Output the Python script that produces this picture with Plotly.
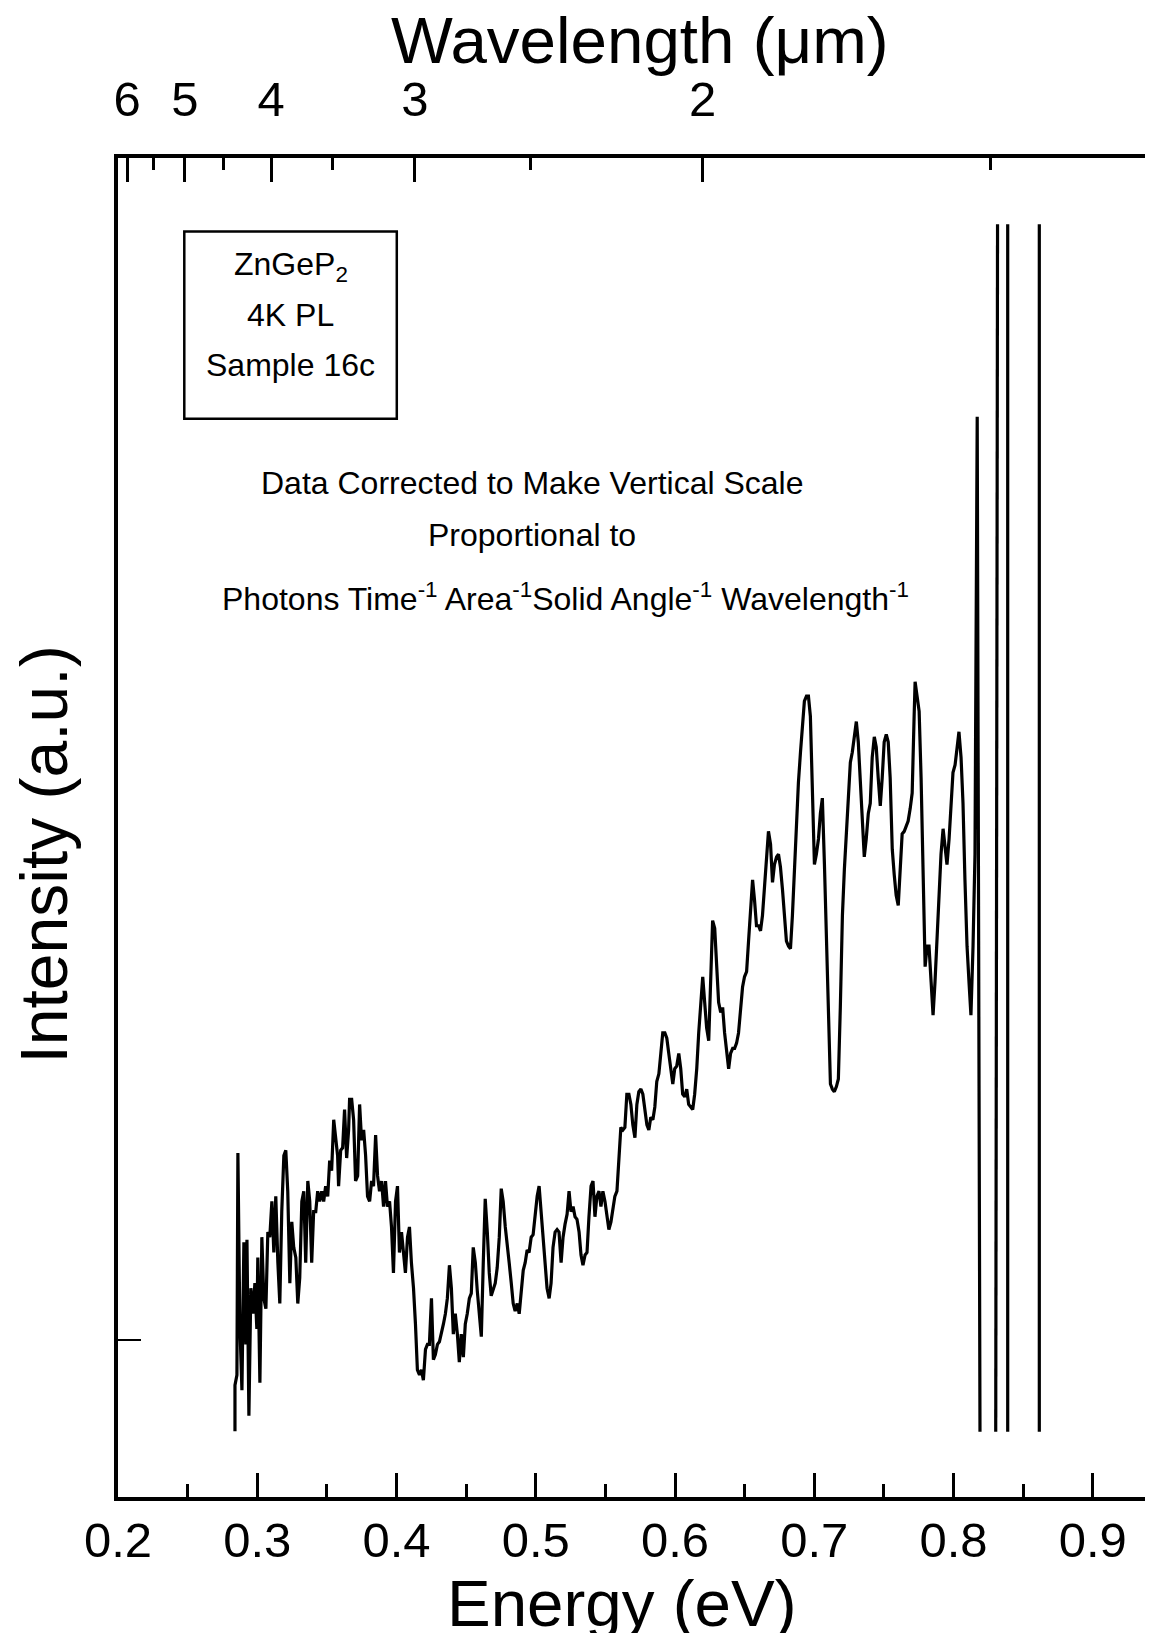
import plotly.graph_objects as go

# PL spectrum, ZnGeP2 sample 16c (energy in eV, intensity in arbitrary units)
energy = [
    0.2840, 0.2840, 0.2854, 0.2861, 0.2875, 0.2890, 0.2904, 0.2918, 0.2926, 0.2940,
    0.2954, 0.2969, 0.2983, 0.2997, 0.3004, 0.3019, 0.3033, 0.3047, 0.3062, 0.3076,
    0.3090, 0.3105, 0.3119, 0.3133, 0.3148, 0.3162, 0.3176, 0.3191, 0.3205, 0.3219,
    0.3234, 0.3248, 0.3262, 0.3277, 0.3291, 0.3305, 0.3320, 0.3334, 0.3348, 0.3363,
    0.3377, 0.3391, 0.3405, 0.3420, 0.3434, 0.3448, 0.3463, 0.3477, 0.3491, 0.3506,
    0.3520, 0.3534, 0.3549, 0.3563, 0.3577, 0.3584, 0.3599, 0.3613, 0.3627, 0.3642,
    0.3656, 0.3663, 0.3678, 0.3692, 0.3706, 0.3721, 0.3735, 0.3749, 0.3764, 0.3778,
    0.3792, 0.3807, 0.3821, 0.3835, 0.3850, 0.3864, 0.3878, 0.3893, 0.3907, 0.3921,
    0.3935, 0.3950, 0.3964, 0.3978, 0.3993, 0.4007, 0.4021, 0.4036, 0.4050, 0.4064,
    0.4079, 0.4093, 0.4107, 0.4122, 0.4136, 0.4150, 0.4165, 0.4179, 0.4193, 0.4208,
    0.4222, 0.4236, 0.4251, 0.4265, 0.4279, 0.4294, 0.4308, 0.4322, 0.4337, 0.4351,
    0.4365, 0.4380, 0.4394, 0.4408, 0.4422, 0.4437, 0.4451, 0.4465, 0.4480, 0.4494,
    0.4508, 0.4523, 0.4537, 0.4551, 0.4566, 0.4580, 0.4594, 0.4609, 0.4623, 0.4637,
    0.4652, 0.4666, 0.4680, 0.4695, 0.4709, 0.4723, 0.4738, 0.4752, 0.4766, 0.4781,
    0.4795, 0.4809, 0.4824, 0.4838, 0.4852, 0.4867, 0.4881, 0.4895, 0.4910, 0.4924,
    0.4938, 0.4952, 0.4967, 0.4981, 0.4995, 0.5010, 0.5024, 0.5038, 0.5053, 0.5067,
    0.5081, 0.5096, 0.5110, 0.5124, 0.5139, 0.5153, 0.5167, 0.5182, 0.5196, 0.5210,
    0.5225, 0.5239, 0.5253, 0.5268, 0.5282, 0.5296, 0.5311, 0.5325, 0.5339, 0.5354,
    0.5368, 0.5382, 0.5397, 0.5411, 0.5425, 0.5439, 0.5454, 0.5468, 0.5482, 0.5497,
    0.5511, 0.5525, 0.5540, 0.5554, 0.5568, 0.5583, 0.5597, 0.5611, 0.5626, 0.5640,
    0.5654, 0.5669, 0.5683, 0.5697, 0.5712, 0.5726, 0.5740, 0.5755, 0.5769, 0.5783,
    0.5798, 0.5812, 0.5826, 0.5841, 0.5855, 0.5869, 0.5884, 0.5898, 0.5912, 0.5927,
    0.5941, 0.5955, 0.5969, 0.5984, 0.5998, 0.6012, 0.6027, 0.6041, 0.6055, 0.6070,
    0.6084, 0.6098, 0.6113, 0.6127, 0.6141, 0.6156, 0.6170, 0.6184, 0.6199, 0.6213,
    0.6227, 0.6242, 0.6256, 0.6270, 0.6285, 0.6299, 0.6313, 0.6328, 0.6342, 0.6356,
    0.6371, 0.6385, 0.6399, 0.6414, 0.6428, 0.6442, 0.6456, 0.6471, 0.6485, 0.6499,
    0.6514, 0.6528, 0.6542, 0.6557, 0.6571, 0.6585, 0.6600, 0.6614, 0.6628, 0.6643,
    0.6657, 0.6671, 0.6686, 0.6700, 0.6714, 0.6729, 0.6743, 0.6757, 0.6772, 0.6786,
    0.6800, 0.6815, 0.6829, 0.6843, 0.6858, 0.6872, 0.6886, 0.6901, 0.6915, 0.6929,
    0.6944, 0.6958, 0.6972, 0.6987, 0.7001, 0.7015, 0.7030, 0.7044, 0.7058, 0.7073,
    0.7087, 0.7101, 0.7116, 0.7130, 0.7144, 0.7159, 0.7173, 0.7187, 0.7202, 0.7216,
    0.7230, 0.7245, 0.7259, 0.7273, 0.7288, 0.7302, 0.7316, 0.7330, 0.7345, 0.7359,
    0.7373, 0.7388, 0.7402, 0.7416, 0.7431, 0.7445, 0.7459, 0.7474, 0.7488, 0.7502,
    0.7517, 0.7531, 0.7545, 0.7560, 0.7574, 0.7588, 0.7603, 0.7617, 0.7631, 0.7646,
    0.7660, 0.7674, 0.7689, 0.7703, 0.7717, 0.7724, 0.7738, 0.7753, 0.7767, 0.7781,
    0.7796, 0.7810, 0.7824, 0.7839, 0.7853, 0.7867, 0.7882, 0.7896, 0.7910, 0.7925,
    0.7939, 0.7953, 0.7968, 0.7982, 0.7996, 0.8011, 0.8025, 0.8039, 0.8054, 0.8068,
    0.8082, 0.8097, 0.8111, 0.8125, 0.8140, 0.8154, 0.8170, 0.8190,
]
intensity = [
    -17.8, -8.8, -6.8, 36.7, 3.2, -9.8, 19.2, -0.8, 19.7, -14.8,
    10.2, 5.2, 11.2, 2.2, 16.2, -8.3, 20.2, 8.2, 6.2, 21.2,
    20.2, 27.2, 17.2, 28.2, 15.2, 7.2, 25.2, 36.2, 37.2, 29.2,
    11.2, 23.2, 18.2, 16.2, 7.2, 12.2, 27.2, 29.2, 15.2, 31.2,
    27.2, 15.2, 25.2, 25.2, 29.2, 27.2, 29.2, 27.2, 30.2, 28.2,
    35.2, 33.2, 43.2, 39.2, 36.2, 30.2, 37.2, 37.7, 45.2, 35.7,
    41.2, 47.2, 47.2, 43.2, 31.2, 32.2, 46.2, 39.2, 41.2, 36.2,
    28.2, 27.2, 31.2, 30.2, 40.2, 32.2, 29.2, 31.2, 26.2, 31.2,
    26.2, 27.2, 22.2, 13.2, 27.2, 30.2, 17.2, 21.2, 17.2, 13.2,
    20.2, 22.2, 15.2, 10.2, 3.2, -5.8, -6.8, -5.8, -7.8, -1.8,
    -0.8, -0.8, 8.2, -3.8, -2.8, -0.8, -0.3, 1.2, 3.2, 5.2,
    8.2, 14.7, 10.2, 1.2, 5.2, 1.2, -4.3, 1.2, -3.3, 3.2,
    5.2, 8.2, 9.2, 18.2, 15.2, 9.7, 5.2, 0.7, 15.2, 27.7,
    21.2, 13.2, 8.7, 10.2, 11.2, 14.2, 20.2, 29.7, 27.2, 22.2,
    19.2, 15.2, 11.2, 7.2, 5.7, 7.2, 5.2, 10.2, 13.7, 15.2,
    17.7, 17.2, 20.2, 20.7, 25.2, 28.2, 30.2, 25.2, 19.2, 13.2,
    10.2, 8.2, 11.2, 18.2, 21.2, 21.7, 21.2, 15.2, 20.2, 22.7,
    24.7, 29.2, 25.2, 26.2, 24.2, 23.7, 21.2, 16.7, 14.7, 16.7,
    17.2, 24.2, 30.2, 31.2, 24.2, 28.2, 29.2, 26.2, 29.2, 27.2,
    24.7, 21.7, 23.2, 26.2, 28.2, 29.2, 35.2, 41.7, 41.2, 41.7,
    48.2, 48.2, 46.2, 42.2, 39.7, 46.2, 48.7, 49.2, 48.2, 45.2,
    42.2, 41.2, 43.7, 43.2, 45.7, 50.7, 52.2, 56.2, 60.2, 60.2,
    59.2, 56.2, 53.2, 50.2, 53.2, 53.7, 56.2, 53.2, 48.2, 47.7,
    49.2, 46.2, 45.7, 45.2, 48.2, 53.2, 60.2, 66.2, 71.2, 66.2,
    61.2, 58.7, 71.2, 82.2, 80.7, 74.2, 66.2, 64.2, 65.2, 60.2,
    56.2, 53.2, 56.2, 57.2, 57.2, 58.2, 60.2, 65.2, 69.2, 71.2,
    72.2, 78.2, 84.2, 90.2, 86.2, 81.2, 81.2, 80.2, 83.2, 89.2,
    95.2, 99.7, 97.2, 89.7, 93.2, 94.7, 95.2, 92.7, 88.2, 83.2,
    78.2, 77.2, 76.7, 83.2, 93.2, 101.2, 109.2, 115.2, 120.2, 125.2,
    126.2, 126.2, 122.2, 106.2, 93.2, 95.2, 98.2, 103.2, 106.2, 93.2,
    80.2, 65.2, 50.2, 49.2, 48.7, 49.7, 51.2, 65.2, 83.2, 92.2,
    99.2, 106.2, 113.2, 115.2, 118.2, 121.2, 117.2, 109.2, 101.2, 94.7,
    98.2, 103.2, 105.2, 114.2, 118.2, 116.2, 110.2, 104.7, 110.2, 117.2,
    118.7, 117.2, 110.2, 96.2, 91.2, 87.2, 85.2, 93.2, 99.2, 99.7,
    100.7, 101.7, 104.2, 107.2, 122.2, 129.0, 126.2, 123.2, 110.2, 92.2,
    73.2, 77.2, 77.2, 70.2, 63.7, 70.2, 79.2, 88.2, 95.2, 100.2,
    97.2, 93.2, 98.2, 104.2, 111.2, 112.7, 116.2, 119.2, 114.2, 105.2,
    90.2, 77.2, 70.2, 63.7, 77.2, 95.2, 180.9, -17.9,
]

# off-scale lines at the high-energy end (data clipped, gaps = None)
tail_energy = [0.8303, 0.8316, None, 0.8389, 0.8389, None, 0.8616, 0.8616]
tail_intensity = [-17.9, 218.6, None, 218.6, -17.9, None, -17.9, 218.6]

# top axis: wavelength in micrometres
wl_major = [6, 5, 4, 3, 2]
wl_minor = [5.5, 4.5, 3.5, 2.5, 1.5]
hc = 1.2398  # eV um

font = "Liberation Sans, Arial, sans-serif"

fig = go.Figure()
fig.add_trace(go.Scatter(x=energy, y=intensity, mode="lines",
                         line=dict(color="black", width=3.2), showlegend=False))
fig.add_trace(go.Scatter(x=tail_energy, y=tail_intensity, mode="lines",
                         line=dict(color="black", width=3.2), showlegend=False))
# empty trace so the top axis gets drawn
fig.add_trace(go.Scatter(x=[None], y=[None], xaxis="x2", showlegend=False))

# plot runs off the right edge of the page, like the scanned figure
x_range = [0.2, 0.9576]
# page body has an 8px default margin, so everything is shifted by 8px
fig.update_layout(
    width=1165, height=1625,
    margin=dict(l=110, r=0, t=150, b=136),
    plot_bgcolor="white", paper_bgcolor="white",
    font=dict(family=font, color="black"),
    xaxis=dict(range=x_range, tick0=0.2, dtick=0.1, tickformat=".1f",
               ticks="inside", ticklen=24, tickwidth=3, tickcolor="black",
               minor=dict(dtick=0.05, ticks="inside", ticklen=13, tickwidth=3, tickcolor="black"),
               showline=True, linewidth=4, linecolor="black",
               showgrid=False, zeroline=False,
               tickfont=dict(size=49), ticklabelstandoff=-3),
    xaxis2=dict(range=x_range, overlaying="x", side="top",
                tickmode="array", tickvals=[hc / w for w in wl_major],
                ticktext=[str(w) for w in wl_major],
                ticks="inside", ticklen=24, tickwidth=3, tickcolor="black",
                minor=dict(tickvals=[hc / w for w in wl_minor], ticks="inside",
                           ticklen=12, tickwidth=3, tickcolor="black"),
                showline=True, linewidth=4, linecolor="black",
                showgrid=False, zeroline=False,
                tickfont=dict(size=49), ticklabelstandoff=18),
    yaxis=dict(range=[-30.7, 231.6], tickmode="array", tickvals=[0],
               showticklabels=False, ticks="inside", ticklen=23, tickwidth=2,
               tickcolor="black", showline=True, linewidth=4, linecolor="black",
               showgrid=False, zeroline=False),
)

# axis titles (paper coords; plot area is 1055 px wide, 1339 px tall)
fig.add_annotation(text="Wavelength (\u03bcm)", xref="paper", yref="paper",
                   x=0.495, y=1.0875, showarrow=False, font=dict(size=65.5),
                   xanchor="center", yanchor="middle")
fig.add_annotation(text="Energy (eV)", xref="paper", yref="paper",
                   x=0.4776, y=-0.0795, showarrow=False, font=dict(size=65.5),
                   xanchor="center", yanchor="middle")
fig.add_annotation(text="Intensity (a.u.)", xref="paper", yref="paper",
                   x=-0.0704, y=0.4796, showarrow=False, font=dict(size=66),
                   textangle=-90, xanchor="center", yanchor="middle")

# sample box
fig.add_shape(type="rect", x0=0.2476, x1=0.4002, y0=180.5, y1=217.2,
              line=dict(color="black", width=2.5))
box_lines = ["ZnGeP<sub>2</sub>", "4K PL", "Sample 16c"]
box_y = [210.3, 200.9, 191.1]
for txt, yy in zip(box_lines, box_y):
    fig.add_annotation(text=txt, x=0.3239, y=yy, showarrow=False,
                       font=dict(size=32), xanchor="center", yanchor="middle")

note_lines = ["Data Corrected to Make Vertical Scale",
              "Proportional to",
              "Photons Time<sup>-1</sup> Area<sup>-1</sup>Solid Angle<sup>-1</sup> Wavelength<sup>-1</sup>"]
note_x = [0.4975, 0.4975, 0.5214]
note_y = [167.9, 157.7, 145.6]
for txt, xx, yy in zip(note_lines, note_x, note_y):
    fig.add_annotation(text=txt, x=xx, y=yy, showarrow=False,
                       font=dict(size=32), xanchor="center", yanchor="middle")

fig.write_html("out.html")
